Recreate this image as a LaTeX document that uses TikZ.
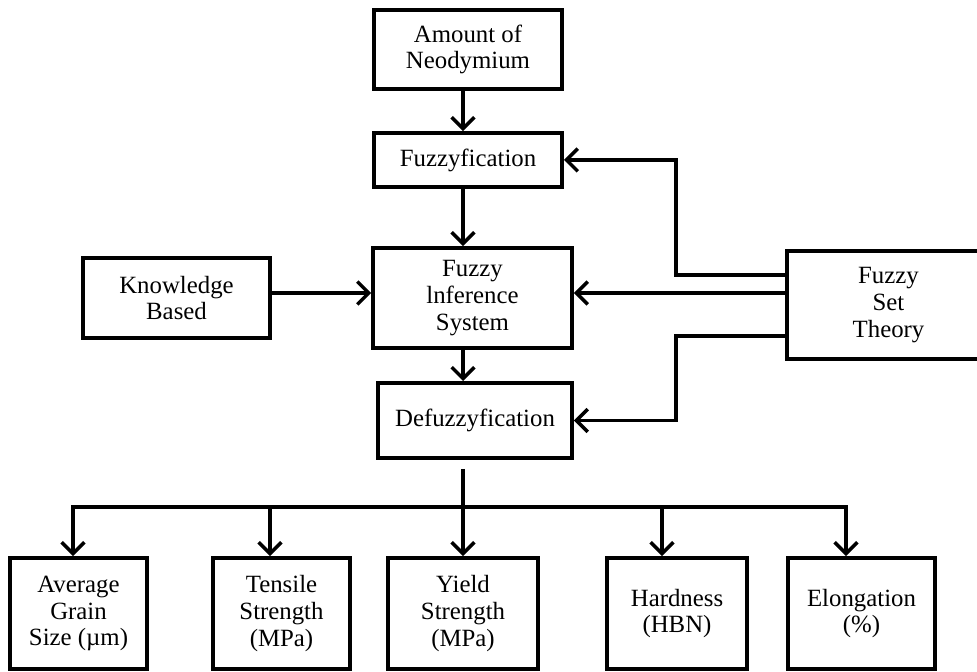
\documentclass[tikz,border=0pt]{standalone}
\usepackage{fontspec}
\setmainfont{Liberation Serif}
\usetikzlibrary{arrows.meta}

\begin{document}
\begin{tikzpicture}
        [x=0.017cm,y=-0.017cm,
        font=\fontsize{12}{13}\selectfont,
        block/.style={rectangle,draw=black,line width=1.8pt,align=center,inner sep=2pt},
        on/.style={-{Straight Barb[length=5.5pt,width=11pt]},line width=1.7pt},
        wire/.style={line width=1.7pt,line cap=rect}]

\useasboundingbox (0,0) rectangle (977,671);
\clip (0,0) rectangle (977,671);

% Main chain %
\node[block,minimum width=3.2cm,minimum height=1.34cm] (amount) at (468,49.5) {Amount of\\Neodymium};
\node[block,minimum width=3.2cm,minimum height=0.92cm] (fuzz) at (468,160) {Fuzzyfication};
\node[block,minimum width=3.38cm,minimum height=1.7cm] (fis) at (472.5,298) {Fuzzy\\lnference\\System};
\node[block,minimum width=3.3cm,minimum height=1.28cm] (defuzz) at (475,420.5) {Defuzzyfication};

% Side inputs %
\node[block,minimum width=3.18cm,minimum height=1.36cm] (kb) at (176.5,298) {Knowledge\\Based};
\node[block,minimum width=3.45cm,minimum height=1.84cm] (fst) at (888.5,305) {Fuzzy\\Set\\Theory};

% Outputs %
\foreach \n/\cx/\w/\t in {1/78.5/2.33/{Average\\Grain\\Size (µm)},
        2/281.5/2.33/{Tensile\\Strength\\(MPa)},
        3/463/2.55/{Yield\\Strength\\(MPa)},
        4/677/2.38/{Hardness\\(HBN)},
        5/861.5/2.5/{Elongation\\(\%)}}
        \node[block,minimum width=\w cm,minimum height=1.89cm] (out\n) at (\cx,613.5) {\t};

% Pfeile %
\coordinate (spine) at (463,0);
\draw[on] (amount.south -| spine) -- (fuzz.north -| spine);
\draw[on] (fuzz.south -| spine) -- (fis.north -| spine);
\draw[on] (fis.south -| spine) -- (defuzz.north -| spine);

\coordinate (mid) at (0,293);
\coordinate (up) at (676,275);
\coordinate (dn) at (676,336);
\draw[on] (kb.east |- mid) -- (fis.west |- mid);
\draw[on] (fst.west |- mid) -- (fis.east |- mid);
\draw[on] (fst.west |- up) -- (up) |- (fuzz.east);
\draw[on] (fst.west |- dn) -- (dn) |- (defuzz.east);

% Verteilung %
\coordinate (bar) at (0,507);
\draw[line width=1.7pt,shorten <=0.15cm] (defuzz.south -| spine) -- (bar -| spine);
\foreach \n/\bx in {1/73,2/270,3/463,4/662,5/846} {
        \coordinate (b\n) at (\bx,507);
        \draw[on] (b\n) -- (b\n |- out\n.north);}
\draw[wire] (b1) -- (b5);
\end{tikzpicture}
\end{document}
